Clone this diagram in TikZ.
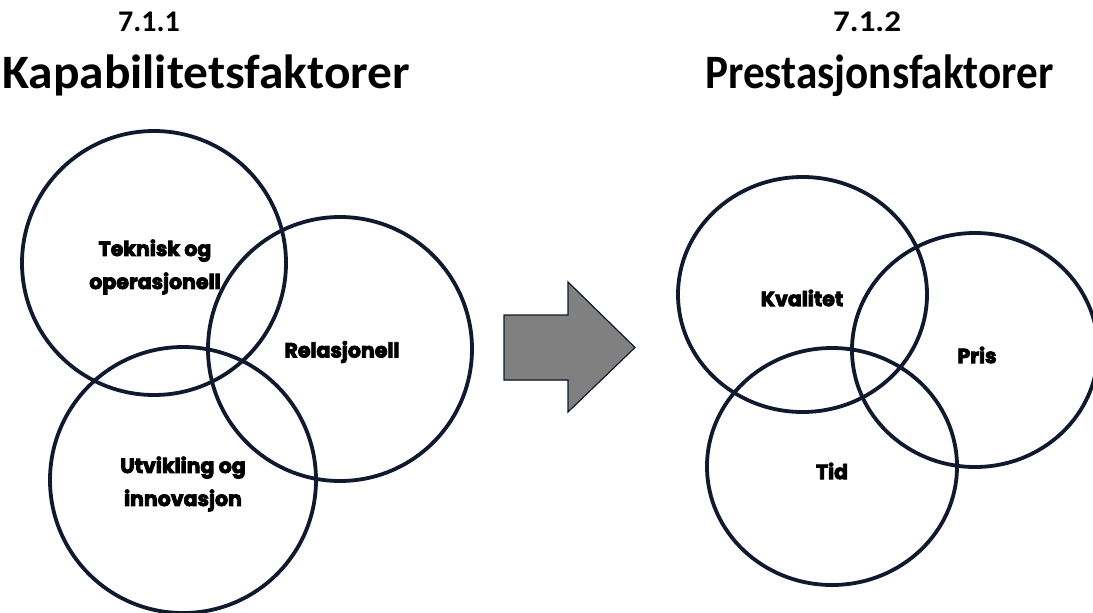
\documentclass[tikz,border=0pt]{standalone}
\usepackage{fontspec}
\setmainfont{Carlito}
\newfontfamily\lblfont[BoldFeatures={FakeBold=4}]{Poppins}
\usetikzlibrary{shapes.geometric}
\definecolor{ring}{HTML}{101A2E}
\definecolor{arrowfill}{HTML}{808080}
\tikzset{
  ring/.style={draw=ring, line width=3.8pt, inner sep=0pt},
  roundring/.style={ring, circle, minimum size=#1},
  ovalring/.style={ring, ellipse, minimum width=#1},
  numtitle/.style={anchor=base west, inner sep=0pt, font=\fontsize{30}{30}\selectfont\bfseries},
  bigtitle/.style={anchor=base west, inner sep=0pt, font=\fontsize{48}{48}\selectfont\bfseries},
  lbl/.style={align=center, inner sep=0pt, font=\lblfont\bfseries\fontsize{20.5}{33}\selectfont}
}
\begin{document}
\begin{tikzpicture}[x=1pt,y=-1pt]
\useasboundingbox (0,0) rectangle (1093,613);

% headings
\node[numtitle] (n1) at (118,31) {7.1.1};
\node[bigtitle] (t1) at (2,88) {\scalebox{1.03}[1]{Kapabilitetsfaktorer}};
\node[numtitle] (n2) at (833,31) {\scalebox{1.1}[1]{7.1.2}};
\node[bigtitle] (t2) at (705,88) {\scalebox{0.9}[1]{Prestasjonsfaktorer}};

% capability circles
\node[roundring=264pt] (tek) at (154,263) {};
\node[roundring=264pt] (rel) at (340,349) {};
\node[roundring=266pt] (utv) at (183,480) {};

% performance circles
\node[ovalring=249pt, minimum height=235pt] (kva) at (802.5,294.5) {};
\node[ovalring=246pt, minimum height=234pt] (pri) at (975,350) {};
\node[ovalring=250pt, minimum height=237pt] (tid) at (832,466.5) {};

% circle labels
\node[lbl] (ltek) at (155,267) {Teknisk og\\operasjonell};
\node[lbl] (lrel) at (342,352) {Relasjonell};
\node[lbl] (lutv) at (183,484) {Utvikling og\\innovasjon};
\node[lbl] (lkva) at (802,298) {Kvalitet};
\node[lbl] (lpri) at (977,355) {Pris};
\node[lbl] (ltid) at (832,471) {Tid};

% block arrow between the two groups
\coordinate (s1) at (504,315);
\coordinate (s2) at (568,315);
\coordinate (h1) at (568,282);
\coordinate (tip) at (635,347.5);
\coordinate (h2) at (568,412);
\coordinate (s3) at (568,380);
\coordinate (s4) at (504,380);
\fill[black, shift={(3,3)}] (s1) -- (s2) -- (h1) -- (tip) -- (h2) -- (s3) -- (s4) -- cycle;
\filldraw[fill=arrowfill, draw=ring, line width=1.2pt, line join=miter]
  (s1) -- (s2) -- (h1) -- (tip) -- (h2) -- (s3) -- (s4) -- cycle;
\end{tikzpicture}
\end{document}
